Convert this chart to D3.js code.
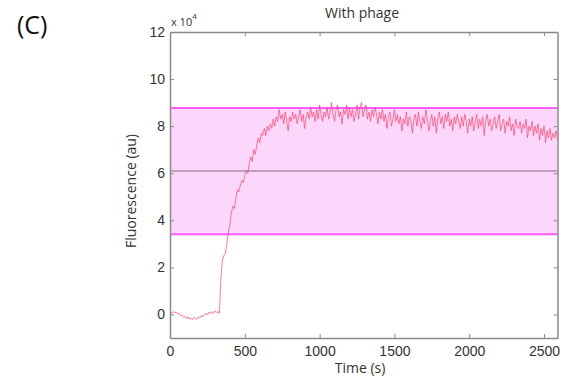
<!DOCTYPE html>
<html>
<head>
<meta charset="utf-8">
<script src="https://cdn.jsdelivr.net/npm/d3@7"></script>
<style>
  html, body { margin: 0; padding: 0; background: #fff; }
  svg { display: block; font-family: "Open Sans", "DejaVu Sans", sans-serif; }
</style>
</head>
<body>
<svg id="chart" width="564" height="378"></svg>
<script>
// Fluorescence trace (units of 1e4 au), sampled every 10 s starting at t = 0
const sampleStep = 10;
const fluorescence = [
  0.15, 0.05, 0.12, 0.08, 0.10, 0.02, 0.05, -0.05, -0.02, -0.12,
  -0.08, -0.18, -0.10, -0.20, -0.15, -0.22, -0.12, -0.18, -0.20, -0.10,
  -0.15, -0.05, -0.10, 0.00, 0.05, -0.02, 0.10, 0.03, 0.12, 0.05,
  0.15, 0.08, 0.12, 0.05,
  1.5, 2.3, 2.5, 2.6, 3.0, 3.5, 3.8, 4.3, 4.6, 4.5,
  4.9, 5.3, 5.2, 5.5, 5.7, 5.6, 5.9, 6.1, 6.0, 6.4,
  6.7, 6.5, 7.0, 6.8, 7.2, 7.5, 7.3, 7.7, 7.6, 7.9,
  7.6, 8.0, 7.8, 8.1, 7.9, 8.3, 8.0, 8.4, 8.2, 8.7,
  8.3, 8.5, 8.1, 8.6, 8.2, 7.8, 8.4, 8.2, 8.6, 8.3,
  8.5, 8.1, 8.4, 8.7, 8.2, 8.5, 7.9, 8.4, 8.6, 8.3,
  8.8, 8.4, 8.6, 8.2, 8.7, 8.3, 8.9, 8.5, 8.2, 8.6,
  8.4, 8.8, 8.3, 8.6, 9.0, 8.5, 8.2, 8.7, 8.9, 8.4,
  8.6, 8.1, 8.7, 8.5, 8.9, 8.3, 8.8, 8.4, 8.7, 8.2,
  8.5, 8.9, 8.3, 8.8, 9.0, 8.4, 8.7, 8.9, 8.3, 8.6,
  8.2, 8.7, 8.4, 8.8, 8.5, 8.1, 8.6, 8.3, 8.7, 8.2,
  8.5, 7.9, 8.4, 8.6, 8.0, 8.3, 8.7, 8.2, 8.5, 8.1,
  8.4, 7.8, 8.3, 8.1, 8.6, 8.0, 8.4, 8.2, 7.7, 8.3,
  8.5, 8.0, 8.6, 8.2, 7.9, 8.4, 8.1, 8.7, 8.3, 7.8,
  8.2, 8.5, 8.0, 8.4, 7.7, 8.3, 8.6, 8.1, 8.4, 7.9,
  8.5, 8.2, 8.6, 8.0, 8.3, 7.8, 8.4, 8.1, 8.5, 8.2,
  7.9, 8.4, 8.0, 8.5, 8.2, 7.7, 8.3, 8.0, 8.4, 7.8,
  8.2, 8.5, 7.9, 8.3, 8.0, 8.4, 7.6, 8.2, 8.5, 8.0,
  8.3, 7.8, 8.1, 8.4, 7.9, 8.2, 8.5, 7.8, 8.1, 8.3,
  7.7, 8.2, 8.0, 8.4, 7.8, 8.1, 7.6, 8.3, 8.0, 7.9,
  8.2, 7.7, 8.1, 7.9, 8.3, 7.5, 8.0, 7.8, 8.2, 7.6,
  8.0, 7.7, 8.1, 7.4, 7.9, 7.6, 8.0, 7.3, 7.8, 7.5,
  7.9, 7.4, 7.7, 7.5, 7.8, 7.4
];

// Reference band: lower bound, mean, upper bound (units of 1e4 au)
const bandLower = 3.41;
const bandMean = 6.1;
const bandUpper = 8.77;

const xTicks = [0, 500, 1000, 1500, 2000, 2500];
const yTicks = [0, 2, 4, 6, 8, 10, 12];
const xDomain = [0, 2590];
const yDomain = [-1, 12];

const panelLabel = "(C)";
const titleText = "With phage";
const xLabel = "Time (s)";
const yLabel = "Fluorescence (au)";

const margin = { left: 170, top: 32, right: 6.5, bottom: 40 };
const W = 564, H = 378;
const svg = d3.select("#chart");

const x = d3.scaleLinear().domain(xDomain).range([margin.left, W - margin.right]);
const y = d3.scaleLinear().domain(yDomain).range([H - margin.bottom, margin.top]);

const points = fluorescence.map((v, i) => ({ t: i * sampleStep, v }));

// Shaded band
svg.append("rect")
  .attr("x", x(xDomain[0]))
  .attr("y", y(bandUpper))
  .attr("width", x(xDomain[1]) - x(xDomain[0]))
  .attr("height", y(bandLower) - y(bandUpper))
  .attr("fill", "#fdd7fb");

// Band edges and mean
[bandUpper, bandLower].forEach(v => {
  svg.append("line")
    .attr("x1", x(xDomain[0])).attr("x2", x(xDomain[1]))
    .attr("y1", y(v)).attr("y2", y(v))
    .attr("stroke", "#ff5cff").attr("stroke-width", 2);
});
svg.append("line")
  .attr("x1", x(xDomain[0])).attr("x2", x(xDomain[1]))
  .attr("y1", y(bandMean)).attr("y2", y(bandMean))
  .attr("stroke", "#a88ca8").attr("stroke-width", 1.5);

// Trace
svg.append("path")
  .datum(points)
  .attr("fill", "none")
  .attr("stroke", "#ff3d64")
  .attr("stroke-opacity", 0.75)
  .attr("stroke-width", 0.9)
  .attr("d", d3.line().x(d => x(d.t)).y(d => y(d.v)));

// Axes with inward ticks on all four sides
const axisColor = "#8a8a8a";
const tickLen = 4;
function styleAxis(g, showLabels) {
  g.select(".domain").attr("stroke", axisColor).attr("stroke-width", 1.5);
  g.selectAll(".tick line").attr("stroke", axisColor);
  g.selectAll(".tick text")
    .attr("fill", "#333")
    .style("font-size", "14px")
    .style("display", showLabels ? null : "none");
}

svg.append("g")
  .attr("transform", `translate(0,${y(yDomain[0])})`)
  .call(d3.axisBottom(x).tickValues(xTicks).tickSizeInner(-tickLen).tickSizeOuter(0).tickPadding(8).tickFormat(d3.format("d")))
  .call(g => styleAxis(g, true));

svg.append("g")
  .attr("transform", `translate(0,${y(yDomain[1])})`)
  .call(d3.axisTop(x).tickValues(xTicks).tickSizeInner(-tickLen).tickSizeOuter(0))
  .call(g => styleAxis(g, false));

svg.append("g")
  .attr("transform", `translate(${x(xDomain[0])},0)`)
  .call(d3.axisLeft(y).tickValues(yTicks).tickSizeInner(-tickLen).tickSizeOuter(0).tickPadding(5).tickFormat(d3.format("d")))
  .call(g => styleAxis(g, true));

svg.append("g")
  .attr("transform", `translate(${x(xDomain[1])},0)`)
  .call(d3.axisRight(y).tickValues(yTicks).tickSizeInner(-tickLen).tickSizeOuter(0))
  .call(g => styleAxis(g, false));

// Exponent marker above the y axis
const expo = svg.append("text")
  .attr("x", x(xDomain[0]) + 1)
  .attr("y", y(yDomain[1]) - 6)
  .attr("fill", "#333")
  .style("font-size", "11px");
expo.append("tspan").text("x 10");
expo.append("tspan").attr("dy", -7).style("font-size", "8px").text("4");

// Title and axis labels
svg.append("text")
  .attr("x", 362)
  .attr("y", 18)
  .attr("text-anchor", "middle")
  .attr("fill", "#333")
  .style("font-size", "14px")
  .text(titleText);

svg.append("text")
  .attr("x", 360)
  .attr("y", 373)
  .attr("text-anchor", "middle")
  .attr("fill", "#333")
  .style("font-size", "14px")
  .text(xLabel);

svg.append("text")
  .attr("transform", "translate(136,191) rotate(-90)")
  .attr("text-anchor", "middle")
  .attr("fill", "#333")
  .style("font-size", "14px")
  .text(yLabel);

svg.append("text")
  .attr("x", 17)
  .attr("y", 34)
  .attr("fill", "#111")
  .style("font-size", "25px")
  .text(panelLabel);
</script>
</body>
</html>
